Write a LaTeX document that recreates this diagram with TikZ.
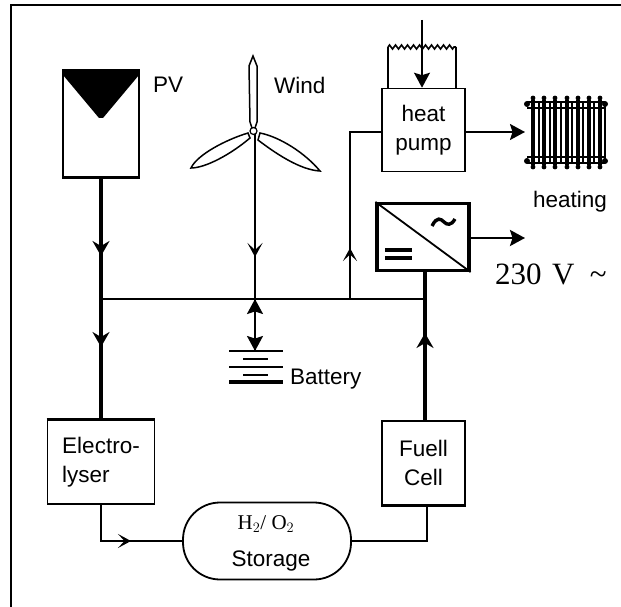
\documentclass[tikz,border=0pt]{standalone}
\usepackage{fontspec}
\setmainfont{Liberation Sans}
\newfontfamily\romanfont{Liberation Serif}
\usetikzlibrary{arrows.meta,decorations.pathmorphing}
\tikzset{
  unitbox/.style={draw,line width=1.6pt,inner sep=0pt,align=center,font=\fontsize{22.5}{29}\selectfont},
  label/.style={inner sep=0pt,font=\fontsize{22.5}{25}\selectfont},
  thickline/.style={line width=3.4pt},
  thinline/.style={line width=1.6pt},
  solidhead/.style={-{Stealth[length=15pt,width=17pt,inset=5pt]}},
  blockhead/.style={-{Stealth[length=15pt,width=16pt,inset=2.5pt]}},
  barbhead/.style={-{Stealth[length=14pt,width=15pt,inset=7pt]}},
  openhead/.style={-{Stealth[length=13pt,width=14pt,inset=6.5pt]}},
  blade/.style={draw,fill=white,line width=1.5pt}
}
\begin{document}
\begin{tikzpicture}[x=1pt,y=-1pt]
  \useasboundingbox (0,0) rectangle (621,607);
  % frame
  \draw[line width=1.6pt] (11,607)--(11,5)--(621,5);

  % pv panel
  \node[draw,line width=2.2pt,minimum width=76pt,minimum height=107pt,inner sep=0pt] (pv) at (101,124) {};
  \fill (63,70)--(139,70)--(139,75)--(103,118)--(99,118)--(63,75)--cycle;
  \node[label,anchor=west] (pvtext) at (153,85) {PV};

  % wind turbine
  \coordinate (hub) at (255,131);
  \coordinate (windtip) at (255,257);
  \coordinate (busbat) at (255,299);
  \draw[thinline] (hub)--(busbat);
  \draw[thinline,barbhead] (hub)--(windtip);
  \draw[blade] (250,122)--(249,66)--(253,56)--(257,66)--(257,122)--(255,128)--(252,128)--cycle;
  \draw[blade] (191,168) .. controls (197,155) and (225,140) .. (248,133)--(250,138) .. controls (230,155) and (205,168) .. (191,168)--cycle;
  \draw[blade] (320,171) .. controls (305,153) and (280,137) .. (260,133)--(258,140) .. controls (275,153) and (300,170) .. (320,171)--cycle;
  \draw[fill=white,line width=1.2pt] (253.5,131) circle (3.5);
  \node[label,anchor=west] (windtext) at (274,85) {Wind};

  % main bus
  \coordinate (busleft) at (101,299);
  \coordinate (busheat) at (350,299);
  \coordinate (busright) at (425,299);
  \draw[thinline] (busleft)--(busright);

  % pv to electrolyser
  \node[unitbox,minimum width=107pt,minimum height=84pt] (elec) at (101,462) {\begin{tabular}{@{}l@{}}Electro-\\lyser\end{tabular}};
  \draw[line width=3.2pt] (elec.north west)--(elec.north east);
  \coordinate (pvtipa) at (101,256);
  \coordinate (pvtipb) at (101,347);
  \draw[thickline] (pv.south)--(elec.north);
  \draw[thickline,solidhead] (pv.south)--(pvtipa);
  \draw[thickline,solidhead] (busleft)--(pvtipb);

  % battery
  \coordinate (battop) at (255,351);
  \draw[thinline,blockhead] (battop)--(busbat);
  \draw[thinline,blockhead] (busbat)--(battop);
  \draw[thinline] (229,351)--(283,351);
  \draw[thinline] (243,359)--(268,359);
  \draw[thinline] (229,367)--(283,367);
  \draw[thinline] (243,375)--(268,375);
  \draw[line width=3.2pt] (229,382)--(283,382);
  \node[label,anchor=west] (battext) at (290,379) {Battery};

  % heat pump
  \node[unitbox,minimum width=83pt,minimum height=83pt] (pump) at (423.5,130) {heat\\pump};
  \coordinate (heattip) at (350,248);
  \coordinate (pumpin) at (350,132);
  \draw[thinline] (busheat)--(pumpin)--(pump.west|-pumpin);
  \draw[thinline,openhead] (busheat)--(heattip);
  \coordinate (radin) at (525,132);
  \draw[thinline,blockhead] (pump.east|-radin)--(radin);
  % heat source
  \coordinate (srctop) at (422,20);
  \draw[thinline,decorate,decoration={zigzag,amplitude=2pt,segment length=6pt}] (388,47)--(456,47);
  \draw[thinline] (388,47)--(388,88);
  \draw[thinline] (456,47)--(456,88);
  \draw[thinline,blockhead] (srctop)--(pump.north-|srctop);

  % radiator
  \foreach \x in {533,544,555,567,578,589,600}{
    \draw[line width=4pt] (\x,100)--(\x,165);
    \fill (\x,98) circle (2.4);
    \fill (\x,167) circle (2.4);
  }
  \foreach \x in {539,550,561,572,583,594,605}{
    \draw[line width=1.4pt] (\x,102)--(\x,163);
  }
  \foreach \y in {102,108,157,163}{
    \draw[line width=1.4pt] (527,\y)--(605,\y);
  }
  \foreach \x in {527,605}{
    \fill (\x,104) circle (3);
    \fill (\x,161) circle (3);
  }
  \node[label,anchor=west] (heattext) at (533,202) {heating};

  % inverter
  \node[draw,line width=3.2pt,minimum width=92pt,minimum height=67pt,inner sep=0pt] (inv) at (423,237) {};
  \draw[line width=1.8pt] (inv.north west)--(inv.south east);
  \draw[line width=3.4pt] (432,226) .. controls (437,216) and (441,219) .. (444,222) .. controls (447,225) and (451,226) .. (455,219);
  \draw[line width=3.2pt] (385,250)--(412,250);
  \draw[line width=3.2pt] (385,258)--(412,258);
  \coordinate (acout) at (525,238);
  \draw[line width=2.6pt,blockhead] (inv.east|-acout)--(acout);
  \node[inner sep=0pt,anchor=west,font=\romanfont\fontsize{31}{34}\selectfont] (actext) at (495,274) {230\,\,V\,\,\,{\char"7E}};

  % fuel cell
  \node[unitbox,minimum width=83pt,minimum height=84pt] (fuel) at (423.5,463) {Fuell\\Cell};
  \draw[line width=3.2pt] (fuel.south west)--(fuel.south east);
  \coordinate (fueltip) at (425,333);
  \draw[thickline] (fuel.north-|fueltip)--(inv.south-|busright);
  \draw[thickline,solidhead] (fuel.north-|fueltip)--(fueltip);

  % storage
  \node[draw,line width=1.8pt,rounded corners=37pt,minimum width=168pt,minimum height=77pt,inner sep=0pt] (store) at (267,541) {};
  \node[inner sep=0pt,font=\romanfont\fontsize{21}{24}\selectfont] (h2o2) at (266,524) {H$_2$/ O$_2$};
  \node[label] (storetext) at (271,561) {Storage};
  \coordinate (storetip) at (131,541);
  \draw[thinline] (elec.south)--(101,541)--(store.west);
  \draw[thinline,openhead] (101,541)--(storetip);
  \draw[thinline] (store.east)--(427,541)--(427,505);
\end{tikzpicture}
\end{document}
